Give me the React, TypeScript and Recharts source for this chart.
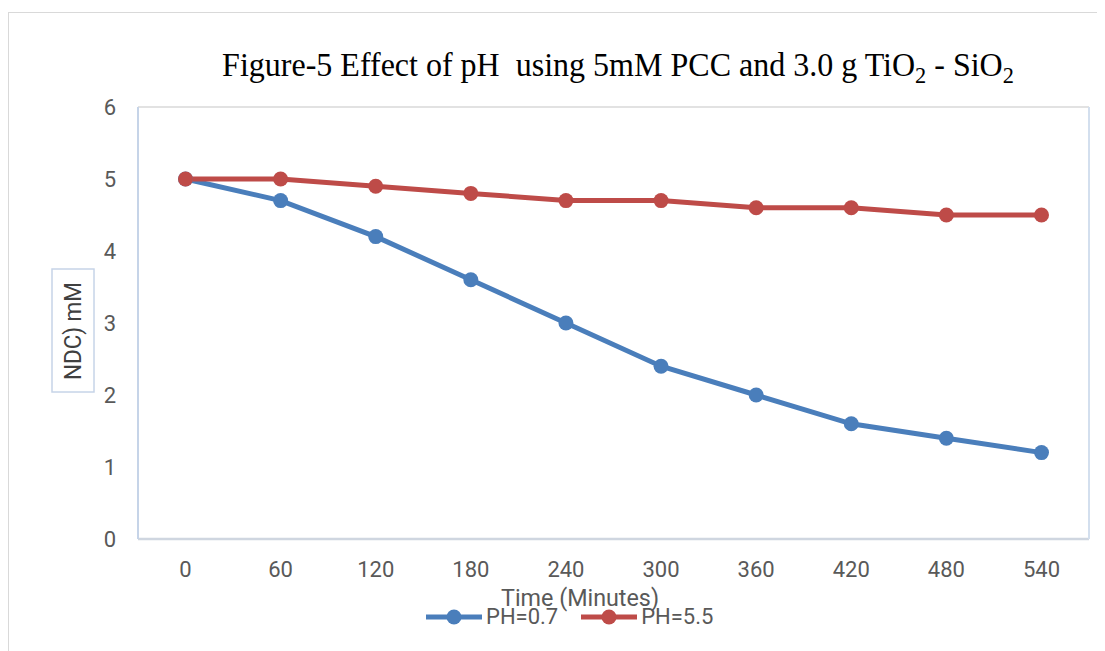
import React from "react";
import { LineChart, Line, XAxis, YAxis, CartesianGrid } from "recharts";

const times = ["0", "60", "120", "180", "240", "300", "360", "420", "480", "540"];
const ph07 = [5, 4.7, 4.2, 3.6, 3.0, 2.4, 2.0, 1.6, 1.4, 1.2];
const ph55 = [5, 5, 4.9, 4.8, 4.7, 4.7, 4.6, 4.6, 4.5, 4.5];
const yTicks = [0, 1, 2, 3, 4, 5, 6];
const seriesNames = ["PH=0.7", "PH=5.5"];
const seriesColors = ["#4a7ebb", "#be4b48"];

const data = times.map((t, i) => ({ t, a: ph07[i], b: ph55[i] }));

const TICK_FONT = "Roboto, 'Liberation Sans', sans-serif";
const TEXT_COLOR = "#595959";

const YLabel = (props: any) => {
  const vb = props.viewBox || { x: 0, y: 0, width: 0, height: 0 };
  const cx = 65;
  const cy = vb.y + vb.height / 2 + 8;
  return (
    <g>
      <rect x={cx - 21} y={cy - 62} width={42} height={123} fill="#fff" stroke="#c6d4e8" strokeWidth={1.5} />
      <text
        x={cx}
        y={cy}
        transform={`rotate(-90 ${cx} ${cy})`}
        textAnchor="middle"
        dominantBaseline="central"
        fontFamily={TICK_FONT}
        fontSize={23}
        textLength={98}
        lengthAdjust="spacingAndGlyphs"
        fill="#404040"
      >
        NDC) mM
      </text>
    </g>
  );
};

const XLabel = (props: any) => {
  const vb = props.viewBox || { x: 0, y: 0, width: 0, height: 0 };
  return (
    <text
      x={572}
      y={vb.y + 67}
      textAnchor="middle"
      fontFamily={TICK_FONT}
      fontSize={23}
      textLength={158}
      lengthAdjust="spacingAndGlyphs"
      fill={TEXT_COLOR}
    >
      Time (Minutes)
    </text>
  );
};

export default function App() {
  return (
    <div style={{ position: "relative", width: 1097, height: 643, overflow: "hidden", background: "#fff" }}>
      <div
        style={{
          position: "absolute",
          left: 0,
          top: 4,
          width: 1300,
          height: 900,
          border: "1.5px solid #d9d9d9",
          boxSizing: "border-box",
        }}
      />
      <div style={{ position: "absolute", left: 0, top: 0 }}>
        <LineChart width={1097} height={643} data={data} margin={{ top: 99, right: 0, left: 0, bottom: 37 }}>
          <CartesianGrid vertical={false} stroke="#d9d9d9" strokeWidth={1.5} />
          <XAxis
            dataKey="t"
            padding={{ left: 47.5, right: 47.5 }}
            height={75}
            axisLine={{ stroke: "#cfd6e0", strokeWidth: 2.5 }}
            tickLine={false}
            tickSize={8}
            tickMargin={14}
            tick={{ fontFamily: TICK_FONT, fontSize: 22, fill: TEXT_COLOR }}
            label={<XLabel />}
          />
          <YAxis
            yAxisId="l"
            width={130}
            domain={[0, 6]}
            ticks={yTicks}
            axisLine={{ stroke: "#c6d4e8", strokeWidth: 2 }}
            tickLine={false}
            tickSize={8}
            tickMargin={14}
            tick={{ fontFamily: TICK_FONT, fontSize: 22, fill: TEXT_COLOR }}
            label={<YLabel />}
          />
          <YAxis
            yAxisId="r"
            orientation="right"
            width={16}
            domain={[0, 6]}
            ticks={yTicks}
            axisLine={{ stroke: "#d3dfee", strokeWidth: 2 }}
            tickLine={false}
            tick={false}
          />
          <Line
            yAxisId="l"
            dataKey="a"
            name={seriesNames[0]}
            stroke={seriesColors[0]}
            strokeWidth={5}
            dot={{ r: 7.5, fill: seriesColors[0], stroke: seriesColors[0], strokeWidth: 0 }}
            isAnimationActive={false}
          />
          <Line
            yAxisId="l"
            dataKey="b"
            name={seriesNames[1]}
            stroke={seriesColors[1]}
            strokeWidth={5}
            dot={{ r: 7.5, fill: seriesColors[1], stroke: seriesColors[1], strokeWidth: 0 }}
            isAnimationActive={false}
          />
        </LineChart>
      </div>
      <div
        style={{
          position: "absolute",
          left: 0,
          top: 41,
          width: 1220,
          textAlign: "center",
          fontFamily: "'Liberation Serif', 'Times New Roman', serif",
          fontSize: 33,
          lineHeight: "32px",
          color: "#000",
          whiteSpace: "pre",
          transform: "scaleX(0.97)",
          transformOrigin: "610px 0",
        }}
      >
        {"Figure-5 Effect of pH  using 5mM PCC and 3.0 g TiO"}
        <span style={{ fontSize: 23, position: "relative", top: 7 }}>2</span>
        {" - SiO"}
        <span style={{ fontSize: 23, position: "relative", top: 7 }}>2</span>
      </div>
      <div
        style={{
          position: "absolute",
          left: 417,
          top: 597,
          display: "flex",
          alignItems: "center",
          fontFamily: TICK_FONT,
          fontSize: 22,
          color: TEXT_COLOR,
          lineHeight: "24px",
        }}
      >
        {seriesNames.map((n, i) => (
          <div key={n} style={{ display: "flex", alignItems: "center", marginRight: i === 0 ? 22 : 0 }}>
            <svg width={58} height={20}>
              <line x1={1} y1={10} x2={57} y2={10} stroke={seriesColors[i]} strokeWidth={5} />
              <circle cx={29} cy={10} r={7.5} fill={seriesColors[i]} />
            </svg>
            <span style={{ marginLeft: 3 }}>{n}</span>
          </div>
        ))}
      </div>
    </div>
  );
}
